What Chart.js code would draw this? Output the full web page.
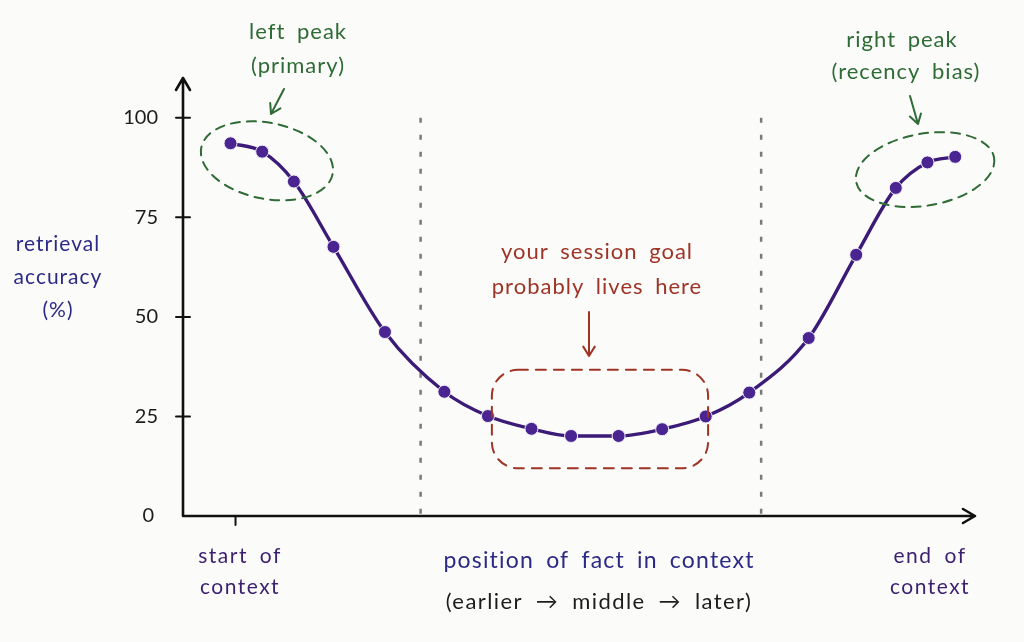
<!DOCTYPE html>
<html>
<head>
<meta charset="utf-8">
<script src="https://cdn.jsdelivr.net/npm/chart.js@4.4.1/dist/chart.umd.min.js"></script>
<style>
  html, body { margin: 0; padding: 0; background: #fbfbf9; }
  #wrap { width: 1024px; height: 642px; position: relative; }
</style>
</head>
<body>
<div id="wrap"><canvas id="uChart"></canvas></div>
<script>
// position of fact in context (0 = start, 100 = end)
const positions = [6, 10, 14, 19, 25.5, 33, 38.5, 44, 49, 55, 60.5, 66, 71.5, 79, 85, 90, 94, 97.5];
// retrieval accuracy (%)
const accuracy = [93.6, 91.5, 84, 67.6, 46.2, 31.2, 25.1, 21.9, 20.1, 20.1, 21.8, 25, 31, 44.7, 65.6, 82.4, 88.8, 90.2];
const yTicks = [0, 25, 50, 75, 100];
const middleBounds = [30, 73];

const FONT = 'Lato, "Open Sans", sans-serif';

// set font with a bit of handwritten-like spacing
function setFont(ctx, size, letter, word) {
    ctx.font = size + 'px ' + FONT;
    ctx.letterSpacing = letter + 'px';
    ctx.wordSpacing = word + 'px';
}

// draws axes, tick labels, guides and notes on top of the library's scales
const sketchPlugin = {
    id: 'sketch',
    beforeDatasetsDraw(chart) {
        const { ctx, scales: { x, y } } = chart;
        ctx.save();
        // dotted guides bounding the middle region
        ctx.strokeStyle = '#7a7a7a';
        ctx.lineWidth = 2.5;
        ctx.setLineDash([5, 12]);
        middleBounds.forEach(v => {
            const px = x.getPixelForValue(v);
            ctx.beginPath();
            ctx.moveTo(px, y.getPixelForValue(100));
            ctx.lineTo(px, y.getPixelForValue(0));
            ctx.stroke();
        });
        ctx.restore();
    },
    afterDraw(chart) {
        const { ctx, chartArea, scales: { x, y } } = chart;
        const x0 = chartArea.left, y0 = y.getPixelForValue(0);
        ctx.save();

        // axes with arrow heads
        ctx.strokeStyle = '#111';
        ctx.lineWidth = 2.6;
        ctx.lineCap = 'round';
        ctx.lineJoin = 'round';
        ctx.setLineDash([]);
        ctx.beginPath();
        ctx.moveTo(x0, y0);
        ctx.lineTo(x0, chartArea.top);
        ctx.moveTo(x0 - 7, chartArea.top + 12);
        ctx.lineTo(x0, chartArea.top);
        ctx.lineTo(x0 + 7, chartArea.top + 12);
        ctx.moveTo(x0, y0);
        ctx.lineTo(chartArea.right, y0);
        ctx.moveTo(chartArea.right - 12, y0 - 7);
        ctx.lineTo(chartArea.right, y0);
        ctx.lineTo(chartArea.right - 12, y0 + 7);
        ctx.stroke();

        // y ticks
        ctx.lineWidth = 2;
        ctx.fillStyle = '#1c1c1c';
        setFont(ctx, 20, 0, 0);
        ctx.textAlign = 'right';
        ctx.textBaseline = 'middle';
        yTicks.forEach(t => {
            const py = y.getPixelForValue(t);
            if (t > 0) {
                ctx.beginPath();
                ctx.moveTo(x0 - 7, py);
                ctx.lineTo(x0 + 7, py);
                ctx.stroke();
            }
            ctx.fillText(String(t), t === 0 ? x0 - 29 : x0 - 25, py);
        });

        // start tick on x axis
        const sx = x.getPixelForValue(positions[0]) + 5;
        ctx.beginPath();
        ctx.moveTo(sx, y0);
        ctx.lineTo(sx, y0 + 9);
        ctx.stroke();

        ctx.textAlign = 'center';
        ctx.textBaseline = 'middle';
        const midX = (x0 + chartArea.right) / 2 + 20;

        // axis titles
        ctx.fillStyle = '#2b2a86';
        setFont(ctx, 21, 1, 2);
        ['retrieval', 'accuracy', '(%)'].forEach((s, i) => ctx.fillText(s, 58, 244 + i * 33));
        setFont(ctx, 23, 1.2, 5);
        ctx.fillText('position of fact in context', midX, 561);
        ctx.fillStyle = '#1c1c1c';
        setFont(ctx, 22, 1.4, 6);
        ctx.fillText('(earlier \u2192 middle \u2192 later)', midX, 602);

        ctx.fillStyle = '#3b1f70';
        setFont(ctx, 21, 1.5, 5);
        ctx.fillText('start of', 240, 556);
        ctx.fillText('context', 240, 587);
        ctx.fillText('end of', 930, 556);
        ctx.fillText('context', 930, 587);

        // peak highlights
        const green = '#2f6b35';
        ctx.strokeStyle = green;
        ctx.lineWidth = 2;
        ctx.setLineDash([9, 7]);
        ctx.beginPath();
        ctx.ellipse(x.getPixelForValue(10.6), y.getPixelForValue(89.2), 67, 38, 0.2, 0, Math.PI * 2);
        ctx.stroke();
        ctx.beginPath();
        ctx.ellipse(x.getPixelForValue(93.7), y.getPixelForValue(87), 70, 36, -0.17, 0, Math.PI * 2);
        ctx.stroke();

        ctx.setLineDash([]);
        const arrow = (ax, ay, bx, by, color) => {
            const ang = Math.atan2(by - ay, bx - ax);
            ctx.strokeStyle = color;
            ctx.beginPath();
            ctx.moveTo(ax, ay);
            ctx.lineTo(bx, by);
            ctx.moveTo(bx - 11 * Math.cos(ang - 0.55), by - 11 * Math.sin(ang - 0.55));
            ctx.lineTo(bx, by);
            ctx.lineTo(bx - 11 * Math.cos(ang + 0.55), by - 11 * Math.sin(ang + 0.55));
            ctx.stroke();
        };
        arrow(284, 89, 271, 114, green);
        arrow(910, 96, 918, 124, green);

        ctx.fillStyle = green;
        setFont(ctx, 22, 1, 5);
        ctx.fillText('left peak', 298, 32);
        ctx.fillText('(primary)', 298, 66);
        ctx.fillText('right peak', 902, 40);
        ctx.fillText('(recency bias)', 906, 72);

        // middle region box
        const red = '#9e3326';
        ctx.strokeStyle = red;
        ctx.setLineDash([10, 8]);
        const bx0 = x.getPixelForValue(39), bx1 = x.getPixelForValue(66.3);
        const by0 = y.getPixelForValue(36.7), by1 = y.getPixelForValue(12);
        ctx.beginPath();
        ctx.roundRect(bx0, by0, bx1 - bx0, by1 - by0, 26);
        ctx.stroke();
        ctx.setLineDash([]);
        arrow(589, 312, 589, 356, red);

        ctx.fillStyle = red;
        setFont(ctx, 22, 1, 5);
        ctx.fillText('your session goal', 597, 252);
        ctx.fillText('probably lives here', 597, 287);

        ctx.restore();
    }
};

const ctx = document.getElementById('uChart').getContext('2d');
const uChart = new Chart(ctx, {
    type: 'line',
    data: {
        datasets: [{
            label: 'retrieval accuracy',
            data: positions.map((p, i) => ({ x: p, y: accuracy[i] })),
            borderColor: '#3b1a78',
            borderWidth: 3.4,
            cubicInterpolationMode: 'monotone',
            pointRadius: 6.5,
            pointBackgroundColor: '#4a2592',
            pointBorderColor: '#f1eef8',
            pointBorderWidth: 1,
            fill: false
        }]
    },
    options: {
        responsive: true,
        maintainAspectRatio: false,
        animation: false,
        layout: {
            padding: { left: 183, top: 78, right: 49, bottom: 126 }
        },
        plugins: {
            legend: { display: false },
            tooltip: { enabled: false }
        },
        scales: {
            x: { type: 'linear', display: false, min: 0, max: 100 },
            y: { display: false, min: 0, max: 110 }
        }
    },
    plugins: [sketchPlugin]
});
</script>
</body>
</html>
